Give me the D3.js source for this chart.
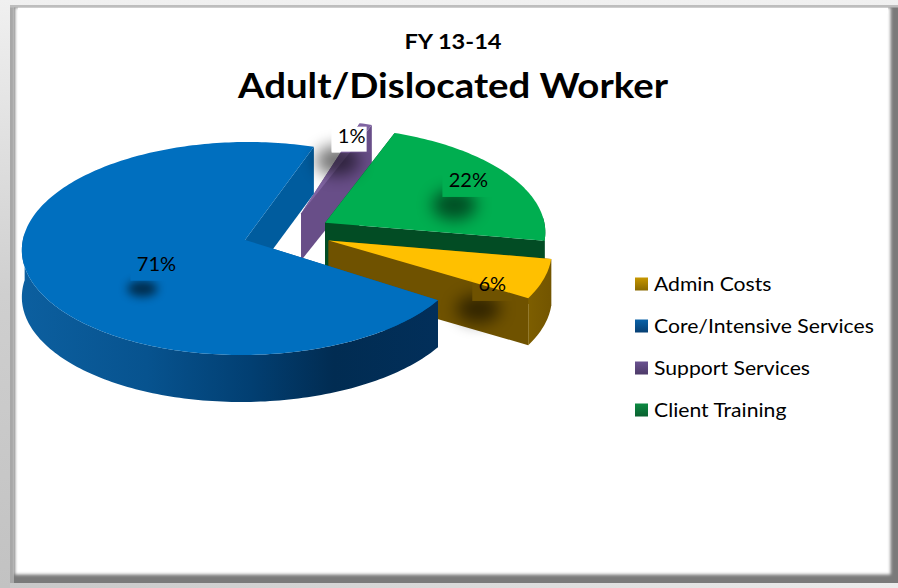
<!DOCTYPE html>
<html>
<head>
<meta charset="utf-8">
<script src="https://cdnjs.cloudflare.com/ajax/libs/d3/7.8.5/d3.min.js"></script>
<style>
html,body{margin:0;padding:0;background:#fff}
svg{display:block}
text{font-family:Lato,"Noto Sans",sans-serif;fill:#000}
</style>
</head>
<body>
<svg id="chart" width="898" height="588"></svg>
<script>
// Chart content
const chartSuper = "FY 13-14";
const chartTitle = "Adult/Dislocated Worker";
const categories = ["Admin Costs", "Core/Intensive Services", "Support Services", "Client Training"];
const shares = [6, 71, 1, 22];

// Slice paints, in category order
const topColors  = ["#ffc000", "#006fbf", "#8064a2", "#00ae50"];
const cutColors  = ["#6f5200", "#005c9e", "#684e88", "#024c24"];
const legendHi   = ["#c79700", "#0a62a8", "#6a5290", "#0c8a42"];
const legendLo   = ["#8a6a00", "#073f73", "#4d3a68", "#0a6030"];
const wallStops  = [
  [[0, "#7d5e00"], [1, "#735500"]],
  [[0, "#0c5f9f"], [0.3, "#07538f"], [0.55, "#023f72"], [0.75, "#012c52"], [1, "#022f5a"]],
  [[0, "#6a4f8b"], [1, "#6a4f8b"]],
  [[0, "#024c24"], [1, "#024c24"]]
];

// Label placement relative to each slice's exploded apex and bisector
const labelReach = [0.72, 0.42, 0.85, 0.72];
const labelNudge = [[10, 16], [1, 9], [-5, -1], [11, -7]];
const labelHalfWidth = [20, 26, 20, 26];
const shadowRadius = [[22, 14], [15, 8], [22, 15], [22, 15]];
const shadowBlur = ["blobWide", "blobNarrow", "blobWide", "blobWide"];
const shadowStrength = [0.55, 0.6, 0.55, 0.55];

// Layout of the tilted pie
const firstSliceAngle = 99.9 * Math.PI / 180;
const sliceTurn = [0, 1.5, 0, 0].map(d => d * Math.PI / 180);
const explode = 0.2;
const wallDepth = 47;
const lean = 0.08;
const x = d3.scaleLinear().domain([-1, 1]).range([66, 508]);
const y = d3.scaleLinear().domain([-1, 1]).range([128.3, 337.7]);

const svg = d3.select("#chart");
const defs = svg.append("defs");

// Maps a point of the pie's plane onto the page with a slight perspective
const project = (u, v) => {
  const w = 1 - lean * v;
  return [x(u / w), y(v / w)];
};
const drop = ([px, py]) => [px, py + wallDepth];
const line = d3.line();

const slices = d3.pie().sort(null)
  .startAngle(firstSliceAngle)
  .endAngle(firstSliceAngle + 2 * Math.PI)(shares);

// d3 angles run clockwise from twelve o'clock
const onPlane = (a, r, cu, cv) => [cu + r * Math.sin(a), cv - r * Math.cos(a)];

const geometry = slices.map((s, i) => {
  const start = s.startAngle + sliceTurn[i], end = s.endAngle + sliceTurn[i];
  const mid = (start + end) / 2;
  const [cu, cv] = onPlane(mid, explode, 0, 0);
  const steps = Math.max(2, Math.ceil((end - start) / 0.02));
  const angles = d3.range(steps + 1).map(k => start + (end - start) * k / steps);
  const rim = angles.map(a => project(...onPlane(a, 1, cu, cv)));
  // Only the part of the rim facing the viewer shows an outer wall
  const frontRim = angles.filter(a => -Math.cos(a) >= -lean)
    .map(a => project(...onPlane(a, 1, cu, cv)));
  return { s, mid, cu, cv, rim, frontRim, apex: project(cu, cv) };
});

// Frame and page background
const pageGrad = defs.append("linearGradient").attr("id", "page")
  .attr("x1", 0).attr("y1", 0).attr("x2", 0).attr("y2", 1);
pageGrad.append("stop").attr("offset", 0).attr("stop-color", "#f0f0f0");
pageGrad.append("stop").attr("offset", 0.5).attr("stop-color", "#cfcfcf");
pageGrad.append("stop").attr("offset", 1).attr("stop-color", "#c2c2c2");
svg.append("rect").attr("width", 898).attr("height", 588).attr("fill", "url(#page)");

const bottomGrad = defs.append("linearGradient").attr("id", "foot")
  .attr("x1", 0).attr("y1", 0).attr("x2", 1).attr("y2", 0);
bottomGrad.append("stop").attr("offset", 0).attr("stop-color", "#c8c8c8");
bottomGrad.append("stop").attr("offset", 1).attr("stop-color", "#ececec");
svg.append("rect").attr("x", 10).attr("y", 583).attr("width", 888).attr("height", 5).attr("fill", "url(#foot)");

defs.append("filter").attr("id", "soft").attr("x", "-5%").attr("y", "-5%").attr("width", "110%").attr("height", "110%")
  .append("feGaussianBlur").attr("stdDeviation", 1.6);
svg.append("rect").attr("x", 10).attr("y", 5).attr("width", 888).attr("height", 578)
  .attr("fill", "#7a7a7a");
svg.append("rect").attr("x", 10).attr("y", 5).attr("width", 4).attr("height", 578).attr("fill", "#a8a8a8");
svg.append("rect").attr("x", 15).attr("y", 7.5).attr("width", 875.5).attr("height", 567)
  .attr("fill", "#fff").attr("filter", "url(#soft)");
svg.append("rect").attr("x", 18).attr("y", 7.5).attr("width", 870).attr("height", 6).attr("fill", "#fff");
svg.append("rect").attr("x", 10).attr("y", 5).attr("width", 888).attr("height", 2.5).attr("fill", "#bdbdbd");

// Wall gradients
geometry.forEach((g, i) => {
  const ext = d3.extent(g.rim, p => p[0]);
  const grad = defs.append("linearGradient").attr("id", "wall" + i)
    .attr("gradientUnits", "userSpaceOnUse")
    .attr("x1", ext[0]).attr("x2", ext[1]).attr("y1", 0).attr("y2", 0);
  wallStops[i].forEach(([o, c]) => grad.append("stop").attr("offset", o).attr("stop-color", c));
});

// Painter's order: rear slices first, the large front slice last
const drawOrder = [2, 3, 0, 1];
const pieLayer = svg.append("g");
drawOrder.forEach(i => {
  const g = geometry[i];
  const group = pieLayer.append("g");
  const first = g.rim[0], last = g.rim[g.rim.length - 1];
  [first, last].forEach(end => {
    group.append("path")
      .attr("d", line([g.apex, end, drop(end), drop(g.apex)]) + "Z")
      .attr("fill", cutColors[i]);
  });
  if (g.frontRim.length > 1) {
    group.append("path")
      .attr("d", line([...g.frontRim, ...g.frontRim.map(drop).reverse()]) + "Z")
      .attr("fill", `url(#wall${i})`);
  }
  group.append("path")
    .attr("d", line([g.apex, ...g.rim]) + "Z")
    .attr("fill", topColors[i]);
});

// Data labels with their soft drop shadows
[["blobWide", 8], ["blobNarrow", 5]].forEach(([id, sd]) => {
  defs.append("filter").attr("id", id).attr("x", "-150%").attr("y", "-150%").attr("width", "400%").attr("height", "400%")
    .append("feGaussianBlur").attr("stdDeviation", sd);
});

const labelLayer = svg.append("g");
geometry.forEach((g, i) => {
  const [lx0, ly0] = project(...onPlane(g.mid, labelReach[i], g.cu, g.cv));
  const lx = lx0 + labelNudge[i][0], ly = ly0 + labelNudge[i][1];
  const hw = labelHalfWidth[i];
  const mask = defs.append("mask").attr("id", "knock" + i).attr("maskUnits", "userSpaceOnUse")
    .attr("x", 0).attr("y", 0).attr("width", 898).attr("height", 588);
  mask.append("rect").attr("width", 898).attr("height", 588).attr("fill", "#fff");
  mask.append("rect").attr("x", lx - hw).attr("y", ly - 9).attr("width", 2 * hw).attr("height", 26).attr("fill", "#000");
  labelLayer.append("g").attr("mask", `url(#knock${i})`)
    .append("ellipse")
    .attr("cx", lx - 14).attr("cy", ly + 25)
    .attr("rx", shadowRadius[i][0]).attr("ry", shadowRadius[i][1])
    .attr("fill", "#000").attr("opacity", shadowStrength[i])
    .attr("filter", `url(#${shadowBlur[i]})`);
  if (categories[i] === "Support Services") {
    labelLayer.append("rect").attr("x", lx - hw).attr("y", ly - 9).attr("width", 2 * hw - 5).attr("height", 25).attr("fill", "#fff");
  }
  labelLayer.append("text")
    .attr("x", lx).attr("y", ly + 7)
    .attr("text-anchor", "middle")
    .attr("font-size", 20)
    .text(d3.format(".0f")(shares[i]) + "%");
});

// Stretches a text to the width its font needs on this page
const stretch = (sel, factor) => {
  const natural = sel.node().getComputedTextLength();
  sel.attr("textLength", natural * factor).attr("lengthAdjust", "spacingAndGlyphs");
  return sel;
};

// Titles
stretch(svg.append("text").attr("x", 453).attr("y", 49).attr("text-anchor", "middle")
  .attr("font-size", 21).attr("font-weight", 700).text(chartSuper), 1.126);
stretch(svg.append("text").attr("x", 453).attr("y", 98).attr("text-anchor", "middle")
  .attr("font-size", 34).attr("font-weight", 700).text(chartTitle), 1.128);

// Legend
const legendY = d3.scalePoint().domain(categories).range([284, 410]);
const legend = svg.append("g");
categories.forEach((c, i) => {
  const grad = defs.append("linearGradient").attr("id", "swatch" + i)
    .attr("x1", 0).attr("y1", 0).attr("x2", 0).attr("y2", 1);
  grad.append("stop").attr("offset", 0).attr("stop-color", legendHi[i]);
  grad.append("stop").attr("offset", 1).attr("stop-color", legendLo[i]);
  legend.append("rect").attr("x", 635).attr("y", legendY(c) - 6.5)
    .attr("width", 13).attr("height", 13).attr("fill", `url(#swatch${i})`);
  stretch(legend.append("text").attr("x", 654).attr("y", legendY(c) + 7)
    .attr("font-size", 20).text(c), 1.058);
});
</script>
</body>
</html>
